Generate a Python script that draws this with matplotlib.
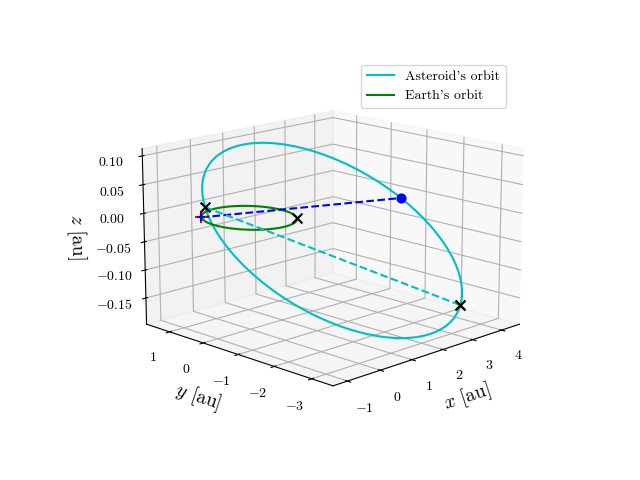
import numpy as np
import matplotlib
matplotlib.use("Agg")
import matplotlib.pyplot as plt

plt.rcParams["font.family"] = "serif"
plt.rcParams["font.serif"] = ["cmr10"]
plt.rcParams["mathtext.fontset"] = "cm"
plt.rcParams["axes.formatter.use_mathtext"] = True

# Orbital elements (a [au], e, i, node, perihelion argument) in degrees
ASTEROID = dict(a=2.8, e=0.66, i=3.5, node=-8.0, peri=158.0)
EARTH = dict(a=1.0, e=0.0, i=0.0, node=0.0, peri=0.0)

# True anomalies (deg) of marked asteroid positions
AST_MARK_NU = [0.0, -160.0, 168.0]
# Earth longitudes (deg) of marked positions
EARTH_MARK_LON = [138.0, -42.0]


def orbit_xyz(el, nu_deg):
    nu = np.radians(nu_deg)
    r = el["a"] * (1 - el["e"] ** 2) / (1 + el["e"] * np.cos(nu))
    xp, yp = r * np.cos(nu), r * np.sin(nu)
    O, w, i = np.radians(el["node"]), np.radians(el["peri"]), np.radians(el["i"])
    cO, sO, cw, sw, ci, si = np.cos(O), np.sin(O), np.cos(w), np.sin(w), np.cos(i), np.sin(i)
    x = (cO * cw - sO * sw * ci) * xp + (-cO * sw - sO * cw * ci) * yp
    y = (sO * cw + cO * sw * ci) * xp + (-sO * sw + cO * cw * ci) * yp
    z = (sw * si) * xp + (cw * si) * yp
    return np.array([x, y, z])


nu = np.linspace(0, 360, 400)
ast = orbit_xyz(ASTEROID, nu)
earth = orbit_xyz(EARTH, nu)
a_pts = orbit_xyz(ASTEROID, np.array(AST_MARK_NU))
e_pts = orbit_xyz(EARTH, np.array(EARTH_MARK_LON))

fig = plt.figure(figsize=(6.4, 4.8))
ax = fig.add_subplot(projection="3d")

ax.plot(*ast, color="c", label="Asteroid's orbit")
ax.plot(*earth, color="g", label="Earth's orbit")

# sight lines
ax.plot(*np.c_[e_pts[:, 0], a_pts[:, 1]], "b--")
ax.plot(*np.c_[a_pts[:, 0], a_pts[:, 2]], "c--")

ax.scatter(*a_pts[:, 1], color="b", s=40, depthshade=False)
ax.scatter(*e_pts[:, 0], color="r", marker="+", s=80, depthshade=False)
ax.scatter(*e_pts[:, 0], color="b", marker="+", s=40, depthshade=False)
ax.scatter(*a_pts[:, 2], color="r", marker="x", s=50, depthshade=False)
ax.scatter(*a_pts[:, [0, 2]], color="k", marker="x", s=50, depthshade=False)
ax.scatter(*e_pts[:, 1], color="k", marker="x", s=50, depthshade=False)

ax.set_xlabel("$x$ [au]", fontsize=14)
ax.set_ylabel("$y$ [au]", fontsize=14)
ax.set_zlabel("$z$ [au]", fontsize=14)
ax.view_init(elev=15, azim=-135)
ax.set_box_aspect((4.4, 4.4, 3.0), zoom=1.1)
ax.legend(loc="upper right")

plt.savefig("out.png", dpi=100)
